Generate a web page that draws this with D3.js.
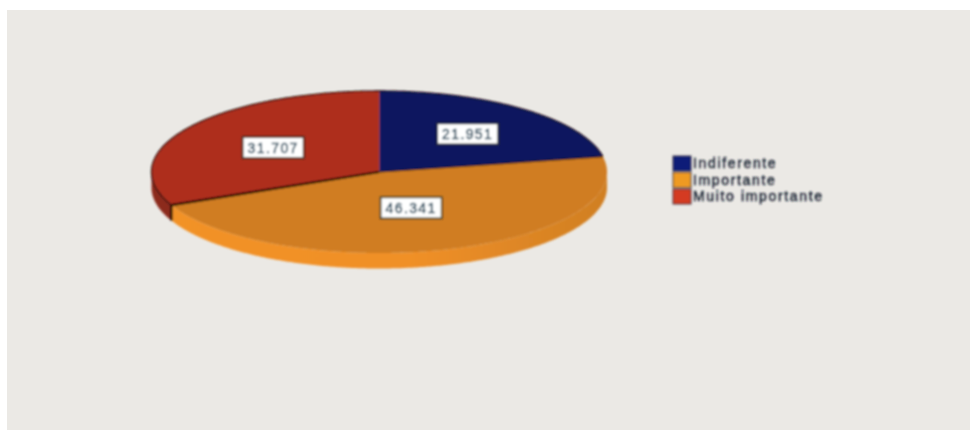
<!DOCTYPE html>
<html>
<head>
<meta charset="utf-8">
<script src="https://cdn.jsdelivr.net/npm/d3@7"></script>
<style>
html,body{margin:0;padding:0;background:#fff;}
svg{display:block;}
text{font-family:"Liberation Sans",Arial,sans-serif;}
</style>
</head>
<body>
<svg id="c" width="970" height="430"></svg>
<script>
const categories = ["Indiferente", "Importante", "Muito importante"];
const values = [21.951, 46.341, 31.707];
const valueLabels = ["21.951", "46.341", "31.707"];
const topColors = ["#09175f", "#d07d24", "#ae2e1c"];
const sideColors = ["#0a1650", "url(#orangeSide)", "#8c2a1e"];
const legendColors = ["#101f78", "#ee9a22", "#d43a24"];
const labelRadii = [0.61, 0.464, 0.555];

const W = 970, H = 430, depth = 15.5;
const svg = d3.select("#c");
const defs = svg.append("defs");
const blur = defs.append("filter").attr("id", "soft").attr("x", "-5%").attr("y", "-5%").attr("width", "110%").attr("height", "110%");
blur.append("feGaussianBlur").attr("stdDeviation", 0.9);
const softText = defs.append("filter").attr("id", "softText").attr("x", "-5%").attr("y", "-20%").attr("width", "110%").attr("height", "140%");
softText.append("feGaussianBlur").attr("stdDeviation", 0.8);
const grad = defs.append("linearGradient").attr("id", "orangeSide");
grad.append("stop").attr("offset", "0%").attr("stop-color", "#f29228");
grad.append("stop").attr("offset", "55%").attr("stop-color", "#f09026");
grad.append("stop").attr("offset", "100%").attr("stop-color", "#d07f24");

svg.append("rect").attr("x", 7).attr("y", 10).attr("width", W - 7).attr("height", H - 10).attr("fill", "#ebe9e5");

const x = d3.scaleLinear().domain([-1, 1]).range([151.5, 607]);
const y = d3.scaleLinear().domain([-1, 1]).range([91, 253]);

// Slices run clockwise from 12 o'clock in the order blue, orange, red.
const pie = d3.pie().sort(null).value(d => d);
const arcs = pie(values);
const pt = (a, r = 1, dy = 0) => [x(r * Math.sin(a)), y(-r * Math.cos(a)) + dy];
const samples = (a0, a1) => {
  const n = Math.max(2, Math.ceil((a1 - a0) / 0.01));
  return d3.range(n + 1).map(i => a0 + (a1 - a0) * i / n);
};
const line = d3.line();

const chart = svg.append("g").attr("filter", "url(#soft)");

// Side wall: only the front half of the rim (angles from 90 to 270 degrees) shows.
arcs.forEach((d, i) => {
  const a0 = Math.max(d.startAngle, Math.PI / 2);
  const a1 = Math.min(d.endAngle, 3 * Math.PI / 2);
  if (a1 <= a0) return;
  const s = samples(a0, a1);
  const path = s.map(a => pt(a)).concat(s.slice().reverse().map(a => pt(a, 1, depth)));
  chart.append("path").attr("d", line(path) + "Z").attr("fill", sideColors[i]);
});

// Top face
arcs.forEach((d, i) => {
  const s = samples(d.startAngle, d.endAngle);
  const path = [pt(0, 0)].concat(s.map(a => pt(a)));
  chart.append("path").attr("d", line(path) + "Z").attr("fill", topColors[i]);
});

// Outlines: red rim, slice boundaries, and the exposed edge of the red wall
const redArc = arcs[2], orangeArc = arcs[1], blueArc = arcs[0];
chart.append("path").attr("d", line(samples(redArc.startAngle, blueArc.endAngle + 2 * Math.PI).map(a => pt(a))))
  .attr("fill", "none").attr("stroke", "#1f0f0e").attr("stroke-width", 1.3);
chart.append("path").attr("d", line([pt(0, 0), pt(redArc.startAngle)]))
  .attr("fill", "none").attr("stroke", "#000000").attr("stroke-width", 2.2);
chart.append("path").attr("d", line([pt(0, 0), pt(orangeArc.startAngle)]))
  .attr("fill", "none").attr("stroke", "#1e1008").attr("stroke-width", 1.2);
chart.append("path").attr("d", line([pt(redArc.startAngle), pt(redArc.startAngle, 1, depth)]))
  .attr("fill", "none").attr("stroke", "#000000").attr("stroke-width", 2.2);

// Value labels
const labels = svg.append("g").attr("filter", "url(#softText)");
arcs.forEach((d, i) => {
  const mid = (d.startAngle + d.endAngle) / 2;
  const [cx, cy] = pt(mid, labelRadii[i]);
  labels.append("rect").attr("x", cx - 30.5).attr("y", cy - 10.5).attr("width", 61).attr("height", 21)
    .attr("fill", "#ffffff").attr("stroke", "#2f322c").attr("stroke-width", 1.6);
  labels.append("text").attr("x", cx).attr("y", cy + 5).attr("text-anchor", "middle")
    .attr("font-size", 14).attr("letter-spacing", 1.4).attr("fill", "#123a50")
    .attr("stroke", "#123a50").attr("stroke-width", 0.4).text(valueLabels[i]);
});

// Legend
const legendY = d3.scalePoint().domain(categories).range([163.5, 196.5]);
const legend = svg.append("g").attr("filter", "url(#softText)");
categories.forEach((c, i) => {
  legend.append("rect").attr("x", 673).attr("y", legendY(c) - 7.5).attr("width", 18).attr("height", 15)
    .attr("fill", legendColors[i]).attr("stroke", "#3a3b44").attr("stroke-width", 1);
  legend.append("text").attr("x", 693).attr("y", legendY(c) + 4.8)
    .attr("font-size", 14).attr("letter-spacing", 1.65).attr("fill", "#16202f")
    .attr("stroke", "#16202f").attr("stroke-width", 0.4).text(c);
});
</script>
</body>
</html>
